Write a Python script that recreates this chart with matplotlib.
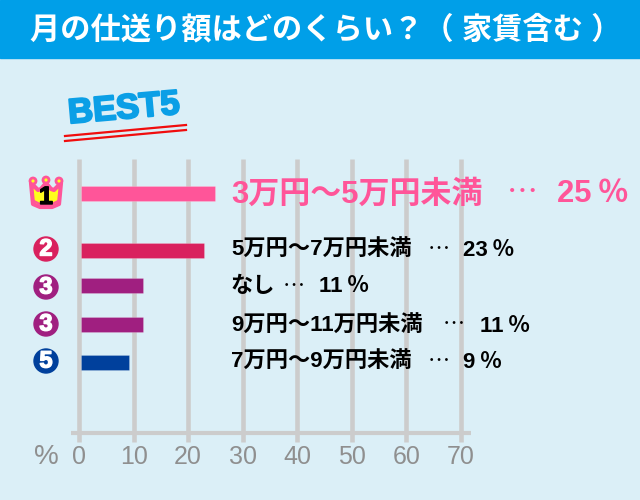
import matplotlib
matplotlib.use("Agg")
import matplotlib.pyplot as plt
import matplotlib.patheffects as pe
from matplotlib.patches import Circle, Polygon, Rectangle

plt.rcParams["font.family"] = ["Liberation Sans", "Noto Sans CJK JP", "DejaVu Sans"]

title = "月の仕送り額はどのくらい？（ 家賃含む ）"
labels = ["3万円～5万円未満", "5万円～7万円未満", "なし", "9万円～11万円未満", "7万円～9万円未満"]
percents = [25, 23, 11, 11, 9]
# bar lengths as drawn, the 11% bars are drawn a bit longer than their label
bar_values = [24.9, 22.9, 11.7, 11.7, 9.1]
ranks = ["1", "2", "3", "3", "5"]
bar_colors = ["#ff5599", "#d9215e", "#a01f80", "#a01f80", "#00409c"]
ticks = [0, 10, 20, 30, 40, 50, 60, 70]

W, H = 640, 500
fig = plt.figure(figsize=(W / 100, H / 100), dpi=100, facecolor="#dbeff7")

# header band at the back
back = fig.add_axes([0, 0, 1, 1], zorder=0)
back.set_xlim(0, W)
back.set_ylim(H, 0)
back.axis("off")
back.add_patch(Rectangle((0, 0), W, 58, color="#009fe8"))

# chart axes: 0 at x=79, 70 at x=461
x0, x70 = 79, 461
ax = fig.add_axes([x0 / W, 0, (x70 - x0) / W, 1], facecolor="none", zorder=1)
ax.set_xlim(0, 70)
ax.set_ylim(H, 0)
ax.axis("off")

for t in ticks:
    ax.plot([t, t], [159, 442], color="#cccccc", lw=3.3, solid_capstyle="butt", zorder=1, clip_on=False)
    ax.text(t, 457, str(t), color="#8f8f8f", fontsize=18, ha="center", va="center")
ax.plot([-1.5, 71.8], [433, 433], color="#cccccc", lw=3, solid_capstyle="butt", zorder=1,
        clip_on=False)

rows = [193.5, 250, 285.5, 324.5, 362]
for y, v, c in zip(rows, bar_values, bar_colors):
    ax.barh(y, v - 0.35, left=0.35, height=15, color=c, edgecolor="#ffffff40", lw=0.5, zorder=2)

# everything written over the grid
top = fig.add_axes([0, 0, 1, 1], facecolor="none", zorder=2)
top.set_xlim(0, W)
top.set_ylim(H, 0)
top.axis("off")

top.text(326, 30, title, color="white", fontsize=21.8, fontweight="bold", ha="center", va="center")
top.text(46, 457, "%", color="#8f8f8f", fontsize=20, ha="center", va="center")

# x of the dots and of the percent text on each row
dots_x = [507, 428, 283, 443, 428]
pct_x = [557, 463, 319, 480, 463]
text_y = [194.5, 250.5, 287, 326, 362.5]
for i, (y, lab, p) in enumerate(zip(text_y, labels, percents)):
    color = bar_colors[0] if i == 0 else "black"
    size = 22.3 if i == 0 else 16
    top.text(231, y, lab, color=color, fontsize=size, fontweight="bold", ha="left", va="center")
    top.text(dots_x[i], y, "⋯", color=color, fontsize=size, ha="left", va="center")
    top.text(pct_x[i], y, f"{p}\u2009％", color=color, fontsize=size, fontweight="bold", ha="left", va="center")

# rank badges
cx = 46
for y, r, c in list(zip([193.5, 249, 287, 324, 361], ranks, bar_colors))[1:]:
    top.add_patch(Circle((cx, y), 12, color=c))
    top.text(cx, y, r, color="white", fontsize=17, fontweight="bold", ha="center", va="center",
             path_effects=[pe.withStroke(linewidth=1, foreground="white")])

# crown for first place
crown = [(31, 183), (38, 190), (41, 189), (46, 183), (51, 189), (54, 190), (61, 183),
         (59, 204), (52, 207), (40, 207), (33, 204)]
top.add_patch(Polygon(crown, closed=True, fc="#ffff1e", ec="#ff5599", lw=3, joinstyle="round"))
for px, py in [(33, 181), (46, 180), (59, 181)]:
    top.add_patch(Circle((px, py), 3, fc="#ffff1e", ec="#ff5599", lw=2))
top.plot([34, 40, 52, 58], [201, 204, 204, 201], color="#ff5599", lw=1.5)
top.text(46, 197, ranks[0], color="black", fontsize=18, fontweight="bold", ha="center", va="center",
         path_effects=[pe.withStroke(linewidth=1, foreground="black")])

# BEST5 heading, tilted
top.text(124, 109, "BEST5", color="#0b9fe6", fontsize=25, fontweight="bold", ha="center", va="center",
         rotation=5, rotation_mode="anchor",
         path_effects=[pe.withStroke(linewidth=1.5, foreground="#0b9fe6")])
top.plot([65, 186], [136, 125], color="#f00d0d", lw=1.6)
top.plot([65, 186], [141, 130], color="#f00d0d", lw=1.6)

fig.savefig("out.png", dpi=100, facecolor=fig.get_facecolor())
